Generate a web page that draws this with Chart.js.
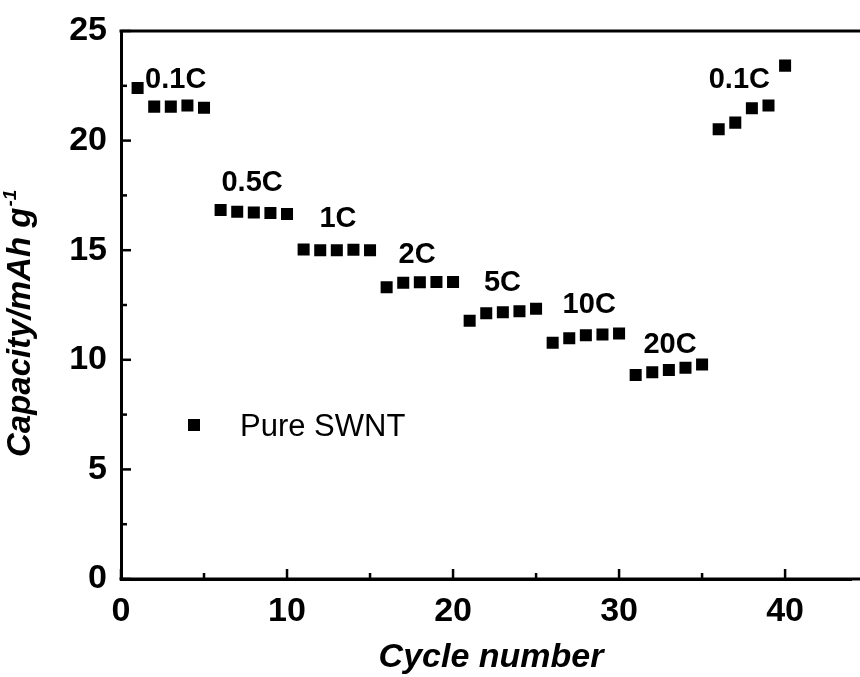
<!DOCTYPE html>
<html>
<head>
<meta charset="utf-8">
<script src="https://cdn.jsdelivr.net/npm/chart.js@4.4.0/dist/chart.umd.min.js"></script>
<style>
  body { margin: 0; background: #fff; }
  canvas { display: block; }
</style>
</head>
<body>
<canvas id="myChart" width="860" height="677"></canvas>
<script>
// cycle number 1..40
const cycles = [1,2,3,4,5,6,7,8,9,10,11,12,13,14,15,16,17,18,19,20,
                21,22,23,24,25,26,27,28,29,30,31,32,33,34,35,36,37,38,39,40];
// capacity (mAh/g)
const capacity = [
  22.4, 21.55, 21.55, 21.6, 21.5,
  16.83, 16.75, 16.72, 16.7, 16.65,
  15.03, 15.0, 15.0, 15.02, 15.0,
  13.31, 13.52, 13.54, 13.55, 13.55,
  11.78, 12.12, 12.17, 12.22, 12.33,
  10.78, 10.98, 11.12, 11.15, 11.2,
  9.31, 9.43, 9.53, 9.64, 9.79,
  20.52, 20.82, 21.48, 21.6, 23.42
];
const seriesName = 'Pure SWNT';

// C-rate labels and where they sit (cycle, capacity)
const rateLabels = ['0.1C', '0.5C', '1C', '2C', '5C', '10C', '20C', '0.1C'];
const rateCycle  = [1.45, 6.05, 11.95, 16.72, 21.86, 26.6, 31.47, 35.4];
const rateCap    = [22.4, 17.7, 16.07, 14.43, 13.14, 12.12, 10.3, 22.41];

const xTicks = [0, 10, 20, 30, 40];
const xMinor = [5, 15, 25, 35];
const yTicks = [0, 5, 10, 15, 20, 25];
const yMinor = [2.5, 7.5, 12.5, 17.5, 22.5];

const FONT = 'Arial, "Liberation Sans", sans-serif';

// tick marks (inward), top frame line, labels, legend, axis titles
const decorations = {
  id: 'decorations',
  afterDraw(chart) {
    const ctx = chart.ctx;
    const area = chart.chartArea;
    const xs = chart.scales.x, ys = chart.scales.y;
    ctx.save();
    ctx.strokeStyle = '#000';
    ctx.lineWidth = 3;
    ctx.beginPath();
    ctx.moveTo(area.left - 1.5, area.top);
    ctx.lineTo(chart.width, area.top);
    ctx.moveTo(area.left - 1.5, area.bottom);
    ctx.lineTo(chart.width, area.bottom);
    ctx.stroke();

    ctx.lineWidth = 2.5;
    const tick = (v, len, isX) => {
      ctx.beginPath();
      if (isX) {
        const px = xs.getPixelForValue(v);
        ctx.moveTo(px, area.bottom);
        ctx.lineTo(px, area.bottom - len);
      } else {
        const py = ys.getPixelForValue(v);
        ctx.moveTo(area.left, py);
        ctx.lineTo(area.left + len, py);
      }
      ctx.stroke();
    };
    xTicks.forEach(v => tick(v, 10, true));
    xMinor.forEach(v => tick(v, 6, true));
    yTicks.forEach(v => tick(v, 10, false));
    yMinor.forEach(v => tick(v, 6, false));

    // rate labels
    ctx.fillStyle = '#000';
    ctx.font = 'bold 29px ' + FONT;
    ctx.textAlign = 'left';
    ctx.textBaseline = 'alphabetic';
    rateLabels.forEach((t, i) => {
      ctx.fillText(t, xs.getPixelForValue(rateCycle[i]), ys.getPixelForValue(rateCap[i]));
    });

    // legend
    ctx.fillRect(188, 419, 12, 12);
    ctx.font = '31px ' + FONT;
    ctx.textBaseline = 'middle';
    ctx.fillText(seriesName, 240, 427);

    // x title
    ctx.font = 'italic bold 34px ' + FONT;
    ctx.textAlign = 'center';
    ctx.textBaseline = 'alphabetic';
    ctx.fillText('Cycle number', 491, 667);

    // y title with superscript
    ctx.translate(30, 457);
    ctx.rotate(-Math.PI / 2);
    ctx.textAlign = 'left';
    ctx.font = 'italic bold 33px ' + FONT;
    const main = 'Capacity/mAh g';
    ctx.fillText(main, 0, 0);
    const w = ctx.measureText(main).width;
    ctx.font = 'italic bold 19px ' + FONT;
    ctx.fillText('-1', w + 1, -14);
    ctx.restore();
  }
};

const ctx = document.getElementById('myChart').getContext('2d');
new Chart(ctx, {
  type: 'scatter',
  data: {
    datasets: [{
      label: seriesName,
      data: cycles.map((c, i) => ({ x: c, y: capacity[i] })),
      pointStyle: 'rect',
      pointRadius: 8.5,
      pointHoverRadius: 8.5,
      backgroundColor: '#000',
      borderColor: '#000',
      borderWidth: 0,
      showLine: false
    }]
  },
  options: {
    responsive: false,
    animation: false,
    layout: { padding: { top: 31, right: 0, left: 0, bottom: 0 } },
    plugins: {
      legend: { display: false },
      tooltip: { enabled: false }
    },
    scales: {
      x: {
        type: 'linear',
        min: 0,
        max: 44,
        afterBuildTicks: s => { s.ticks = xTicks.map(v => ({ value: v })); },
        afterFit: s => { s.height = 98; },
        ticks: {
          color: '#000',
          padding: 12,
          maxRotation: 0,
          font: { family: FONT, size: 34, weight: 'bold' }
        },
        grid: { drawOnChartArea: false, drawTicks: false },
        border: { display: true, color: '#000', width: 3 }
      },
      y: {
        type: 'linear',
        min: 0,
        max: 25,
        afterBuildTicks: s => { s.ticks = yTicks.map(v => ({ value: v })); },
        afterFit: s => { s.width = 121; s.paddingTop = 0; s.paddingBottom = 0; },
        ticks: {
          color: '#000',
          padding: 14,
          font: { family: FONT, size: 34, weight: 'bold' }
        },
        grid: { drawOnChartArea: false, drawTicks: false },
        border: { display: true, color: '#000', width: 3 }
      }
    }
  },
  plugins: [decorations]
});
</script>
</body>
</html>
